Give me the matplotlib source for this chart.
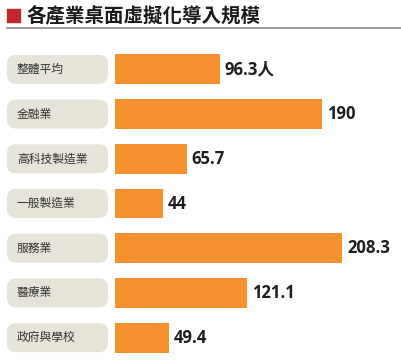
import matplotlib
matplotlib.use("Agg")
import matplotlib.pyplot as plt
from matplotlib.patches import FancyBboxPatch, Rectangle

plt.rcParams["font.family"] = ["Noto Sans CJK TC", "DejaVu Sans"]

TITLE = "各產業桌面虛擬化導入規模"
categories = ["整體平均", "金融業", "高科技製造業", "一般製造業", "服務業", "醫療業", "政府與學校"]
values = [96.3, 190, 65.7, 44, 208.3, 121.1, 49.4]
value_labels = ["96.3人", "190", "65.7", "44", "208.3", "121.1", "49.4"]

BAR_COLOR = "#f7902f"
PILL_COLOR = "#e6e4d8"

W, H = 402, 364
fig = plt.figure(figsize=(W / 100, H / 100), dpi=100)

# overlay in pixel coordinates for title and pills
over = fig.add_axes([0, 0, 1, 1])
over.set_xlim(0, W)
over.set_ylim(H, 0)
over.axis("off")

over.add_patch(Rectangle((7, 9), 13, 13, color="#c1272d"))
over.text(26, 15.5, TITLE, fontsize=14, fontweight="black", color="#1a1a1a", va="center", ha="left")
over.plot([7, W], [27.5, 27.5], color="#8a8a8a", lw=1.2)

# bar axes
top, bottom = 47, 360
px_per_unit = 1.09
ax = fig.add_axes([115 / W, 1 - bottom / H, (W - 115) / W, (bottom - top) / H])
ax.set_xlim(0, (W - 115) / px_per_unit)
n = len(categories)
ax.set_ylim(n - 0.5, -0.5)
ax.axis("off")
ax.barh(range(n), values, height=0.67, color=BAR_COLOR)

row_h = (bottom - top) / n
for i, (cat, v, lab) in enumerate(zip(categories, values, value_labels)):
    ax.text(v + 4.5, i, lab, fontsize=12, fontweight="bold", color="#1e1e1e",
            va="center", ha="left", family=["Open Sans", "Noto Sans CJK TC"])
    cy = top + row_h * (i + 0.5)
    over.add_patch(FancyBboxPatch((7 + 9, cy - 14.5 + 9), 101 - 18, 29 - 18,
                                  boxstyle="round,pad=9", color=PILL_COLOR, lw=0))
    over.text(17, cy, cat, fontsize=8.5, color="#333333", va="center", ha="left")

fig.savefig("out.png", dpi=100)
